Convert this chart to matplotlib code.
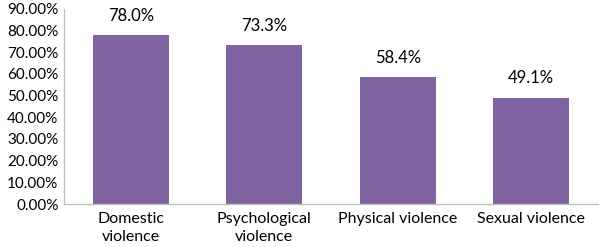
import matplotlib.pyplot as plt
from matplotlib.ticker import FuncFormatter

# Datos del grafico
categorias = ["Domestic\nviolence", "Psychological\nviolence", "Physical violence", "Sexual violence"]
valores = [78.0, 73.3, 58.4, 49.1]
etiquetas_valor = ["78.0%", "73.3%", "58.4%", "49.1%"]
ticks_y = [0, 10, 20, 30, 40, 50, 60, 70, 80, 90]

plt.rcParams['font.family'] = ['Lato', 'DejaVu Sans']

fig = plt.figure(figsize=(6.0, 2.47), dpi=100)
ax = fig.add_axes([0.1067, 0.174, 0.89, 0.79])

x = range(len(categorias))
barras = ax.bar(x, valores, width=0.57, color='#8064A2')

for b, txt in zip(barras, etiquetas_valor):
    ax.annotate(txt, (b.get_x() + b.get_width() / 2, b.get_height()),
                xytext=(0, 8), textcoords='offset points',
                ha='center', va='bottom', fontsize=12)

ax.set_xlim(-0.5, len(categorias) - 0.5)
ax.set_ylim(0, 90)
ax.set_yticks(ticks_y)
ax.yaxis.set_major_formatter(FuncFormatter(lambda v, p: f'{v:.2f}%'))
ax.set_xticks(list(x))
ax.set_xticklabels(categorias, linespacing=1.35, fontsize=11.5)
ax.tick_params(axis='both', length=0)
ax.tick_params(axis='y', labelsize=11, pad=4)
ax.tick_params(axis='x', pad=6)

for s in ['top', 'right']:
    ax.spines[s].set_visible(False)
for s in ['left', 'bottom']:
    ax.spines[s].set_color('#BFBFBF')
    ax.spines[s].set_linewidth(1)

plt.savefig('out.png', dpi=100)
